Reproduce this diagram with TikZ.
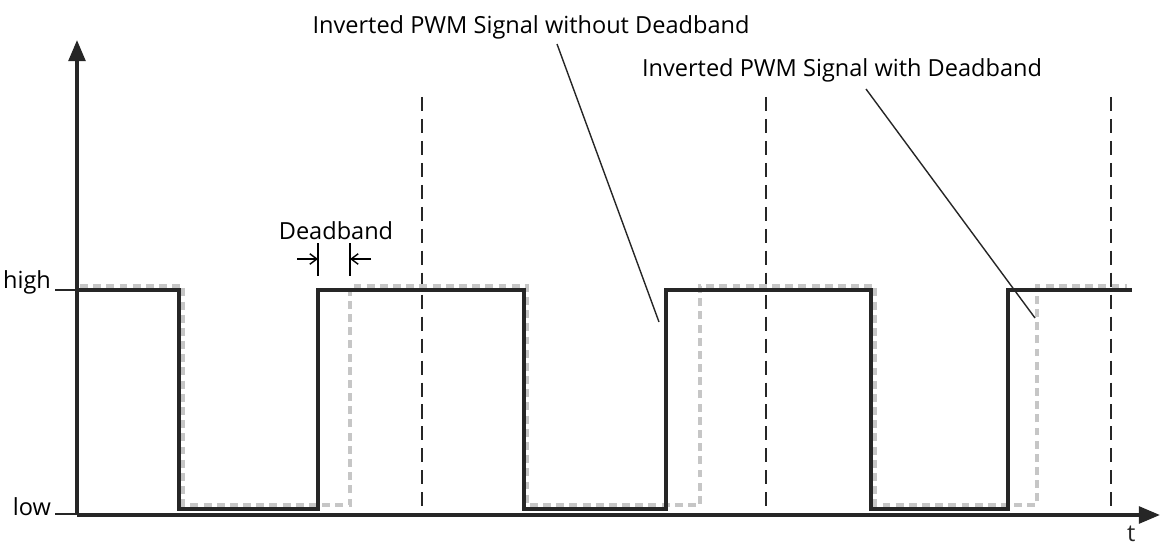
\documentclass[tikz,border=0pt]{standalone}
\usepackage{fontspec}
\setmainfont{Open Sans}
\usetikzlibrary{arrows.meta}

\begin{document}
\begin{tikzpicture}[x=0.02cm, y=-0.02cm, >={Triangle[length=12pt, width=9.5pt]},
    font=\fontsize{13.4}{16}\selectfont,
    axis/.style={line width=2pt, black!85},
    pwm/.style={line width=2.1pt, black!85},
    pwmdb/.style={line width=1.8pt, gray!45, dash pattern=on 4.5pt off 3pt},
    period/.style={line width=0.9pt, black!85, dash pattern=on 8pt off 4.5pt},
    leader/.style={line width=0.8pt, black!85}]
    \useasboundingbox (0,0) rectangle (1172,554);
    % axes
    \coordinate (o) at (77,515);
    \draw[->, axis] (o) -- (77,40);
    \draw[->, axis] (o) -- (1160,515) node[below left, inner sep=1pt, xshift=-12pt, yshift=-4pt] (t) {t};
    \node[left, inner sep=1pt] (high) at (53,282) {high};
    \node[left, inner sep=1pt] (low) at (53,507) {low};
    \draw[line width=0.9pt, black!85] (55,290) -- (77,290);
    \draw[line width=0.9pt, black!85] (55,514) -- (77,514);
    % period markers
    \foreach \x in {422, 766, 1111}
        \draw[period] (\x,97) -- (\x,515);
    % inverted PWM with deadband
    \draw[pwmdb] (80,286) -- (183,286) -- (183,505) -- (350,505) -- (350,286) -- (527,286)
        -- (527,505) -- (700,505) -- (700,286) -- (875,286) -- (875,505) -- (1037,505)
        -- (1037,286) -- (1127,286);
    % inverted PWM without deadband
    \draw[pwm] (77,290) -- (179,290) -- (179,509) -- (318,509) -- (318,290) -- (524,290)
        -- (524,509) -- (666,509) -- (666,290) -- (871,290) -- (871,509) -- (1008,509)
        -- (1008,290) -- (1132,290);
    % deadband marker
    \node (db) at (336,231) {Deadband};
    \draw[line width=0.8pt] (318,243) -- (318,276);
    \draw[line width=0.8pt] (350,243) -- (350,276);
    \draw[-{Straight Barb[length=4pt, width=6pt]}, line width=0.8pt] (297,259) -- (318,259);
    \draw[-{Straight Barb[length=4pt, width=6pt]}, line width=0.8pt] (371,259) -- (350,259);
    % labels
    \node (nodb) at (531,27) {Inverted PWM Signal without Deadband};
    \node (withdb) at (842,70) {Inverted PWM Signal with Deadband};
    \coordinate (nodbend) at (659,322);
    \coordinate (withdbend) at (1035,318);
    \draw[leader] (557,44) -- (nodbend);
    \draw[leader] (866,89) -- (withdbend);
\end{tikzpicture}
\end{document}
